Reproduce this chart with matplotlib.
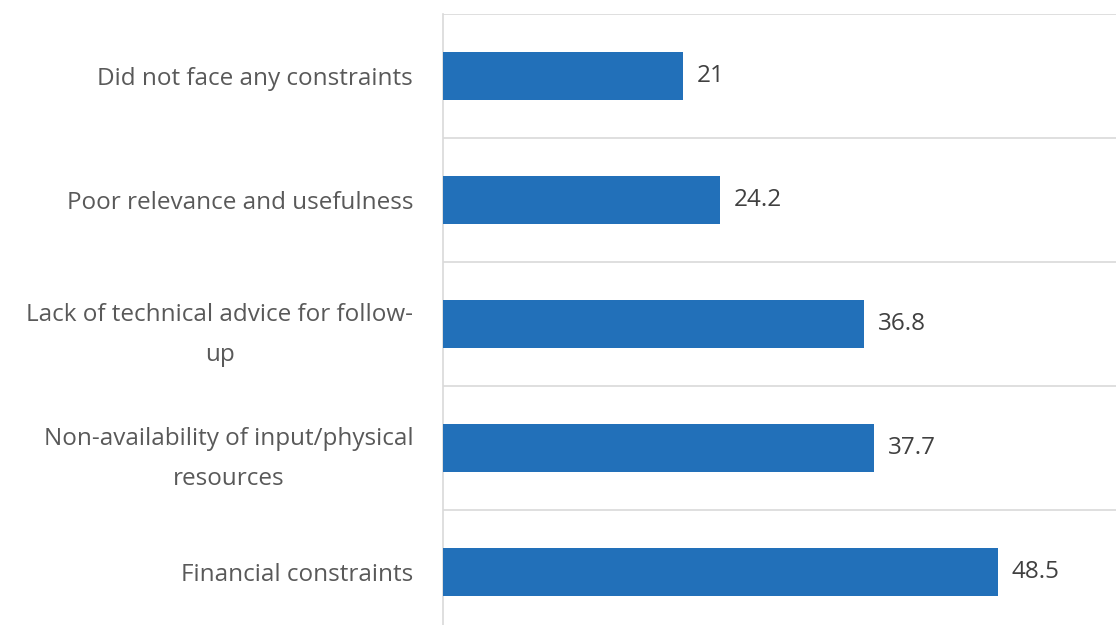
import matplotlib.pyplot as plt

plt.rcParams["font.family"] = ["Open Sans", "DejaVu Sans"]

categories = [
    "Did not face any constraints",
    "Poor relevance and usefulness",
    "Lack of technical advice for follow-\nup",
    "Non-availability of input/physical\nresources",
    "Financial constraints",
]
values = [21, 24.2, 36.8, 37.7, 48.5]

bar_color = "#2270b9"
grid_color = "#d9d9d9"

fig = plt.figure(figsize=(11.16, 6.25), dpi=100)
ax = fig.add_axes([443 / 1116, -9 / 625, 673 / 1116, 620 / 625])

ypos = list(range(len(categories)))
ax.barh(ypos, values, height=0.39, color=bar_color, zorder=3)

ax.set_ylim(len(categories) - 0.5, -0.5)
ax.set_xlim(0, 58.8)

# separators between categories
for b in range(len(categories)):
    ax.axhline(b - 0.5, color=grid_color, linewidth=1.2, zorder=1)

for y, v in zip(ypos, values):
    ax.text(v + 1.2, y, f"{v:g}", va="center", ha="left",
            fontsize=17.5, color="#404040")

ax.set_yticks(ypos)
ax.set_yticklabels(categories, fontsize=17.5, color="#595959",
                   multialignment="center", linespacing=1.9)
ax.tick_params(axis="y", length=0, pad=21.5)
ax.set_xticks([])

for side in ["top", "right", "bottom"]:
    ax.spines[side].set_visible(False)
ax.spines["left"].set_color(grid_color)
ax.spines["left"].set_linewidth(1.2)

fig.savefig("out.png", dpi=100)
